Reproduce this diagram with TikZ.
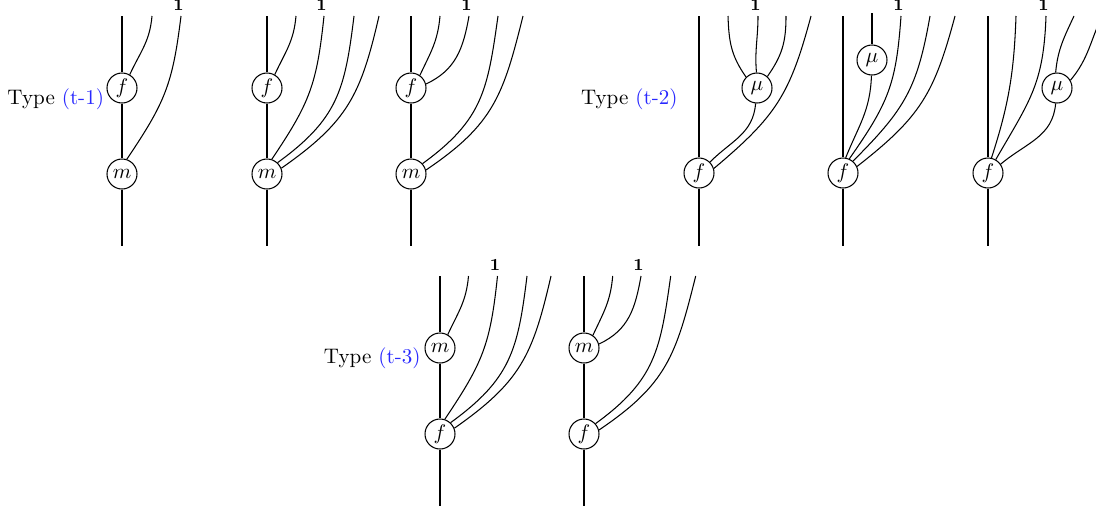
\documentclass[tikz,border=0pt]{standalone}
\usetikzlibrary{calc}
\definecolor{refblue}{RGB}{40,40,255}
\tikzset{
  vtx/.style={draw, circle, minimum size=14.25pt, inner sep=0pt, fill=white},
  onelab/.style={font=\footnotesize, inner sep=0pt, anchor=south},
  typelab/.style={anchor=base east, inner sep=0pt},
  lng/.style={looseness=1.15},
  sht/.style={looseness=1.05},
}
\begin{document}
\begin{tikzpicture}[x=0.475pt,y=0.475pt, line width=0.5pt]
\useasboundingbox (0,0) rectangle (1096,-507);
% ---------- A ----------
\coordinate (A0) at (122,-16); \coordinate (A0b) at (122,-246);
\node[vtx] (Af) at (122,-88) {$f$};
\node[vtx] (Am) at (122,-174) {$m$};
\coordinate (A1) at (152,-16); \coordinate (A2) at (181,-16);
\draw (A0) -- (Af) -- (Am) -- (A0b);
\draw[sht] (A1) to[out=-95,in=65] (Af.60);
\draw[lng] (A2) to[out=-97,in=56] (Am.72);
\node[onelab] at ($(A2)+(-2.5,4.5)$) {$\mathbf{1}$};
\node[typelab] at (104.5,-104.3) {Type \textcolor{refblue}{(t-1)}};
% ---------- B ----------
\coordinate (B0) at (267,-16); \coordinate (B0b) at (267,-246);
\node[vtx] (Bf) at (267,-88) {$f$};
\node[vtx] (Bm) at (267,-174) {$m$};
\coordinate (B1) at (296,-16); \coordinate (B2) at (324,-16);
\coordinate (B3) at (354,-16); \coordinate (B4) at (379,-16);
\draw (B0) -- (Bf) -- (Bm) -- (B0b);
\draw[sht] (B1) to[out=-95,in=65] (Bf.60);
\draw[lng] (B2) to[out=-96,in=56] (Bm.72);
\draw[lng] (B3) to[out=-97,in=36] (Bm.47);
\draw[lng] (B4) to[out=-103,in=35] (Bm.22);
\node[onelab] at ($(B2)+(-2.5,4.5)$) {$\mathbf{1}$};
% ---------- C ----------
\coordinate (C0) at (411,-16); \coordinate (C0b) at (411,-246);
\node[vtx] (Cf) at (411,-88) {$f$};
\node[vtx] (Cm) at (411,-174) {$m$};
\coordinate (C1) at (440,-16); \coordinate (C2) at (469,-16);
\coordinate (C3) at (498,-16); \coordinate (C4) at (523,-16);
\draw (C0) -- (Cf) -- (Cm) -- (C0b);
\draw[sht] (C1) to[out=-95,in=65] (Cf.55);
\draw[sht] (C2) to[out=-100,in=25] (Cf.15);
\draw[lng] (C3) to[out=-98,in=36] (Cm.42);
\draw[lng] (C4) to[out=-104,in=34] (Cm.15);
\node[onelab] at ($(C2)+(-2.5,4.5)$) {$\mathbf{1}$};
% ---------- D ----------
\coordinate (D0) at (699,-16); \coordinate (D0b) at (699,-246);
\node[vtx] (Df) at (699,-173) {$f$};
\node[vtx] (Dmu) at (757,-88) {$\mu$};
\coordinate (D1) at (728,-16); \coordinate (D2) at (758,-16);
\coordinate (D3) at (786,-16); \coordinate (D4) at (811,-16);
\draw (D0) -- (Df) -- (D0b);
\draw[sht] (D1) to[out=-88,in=125] (Dmu.135);
\draw (D2) to[out=-90,in=95] (Dmu.92);
\draw[sht] (D3) to[out=-90,in=55] (Dmu.48);
\draw[sht] (Dmu) to[out=-95,in=45] (Df.45);
\draw[lng] (D4) to[out=-105,in=40] (Df.17);
\node[onelab] at ($(D2)+(-2.5,4.5)$) {$\mathbf{1}$};
\node[typelab] at (678,-104.3) {Type \textcolor{refblue}{(t-2)}};
% ---------- E ----------
\coordinate (E0) at (843,-16); \coordinate (E0b) at (843,-246);
\node[vtx] (Ef) at (843,-173) {$f$};
\node[vtx] (Emu) at (872,-60) {$\mu$};
\coordinate (Emu0) at (872,-13);
\coordinate (E1) at (901,-16); \coordinate (E2) at (930,-16);
\coordinate (E3) at (955,-16);
\draw (E0) -- (Ef) -- (E0b);
\draw (Emu0) -- (Emu);
\draw[sht] (Emu) to[out=-92,in=68] (Ef.80);
\draw[lng] (E1) to[out=-94,in=55] (Ef.66);
\draw[lng] (E2) to[out=-100,in=45] (Ef.50);
\draw[lng] (E3) to[out=-105,in=38] (Ef.25);
\node[onelab] at ($(E1)+(-2.5,4.5)$) {$\mathbf{1}$};
% ---------- F ----------
\coordinate (F0) at (988,-16); \coordinate (F0b) at (988,-246);
\node[vtx] (Ff) at (988,-173) {$f$};
\node[vtx] (Fmu) at (1057,-88) {$\mu$};
\coordinate (F1) at (1016,-16); \coordinate (F2) at (1046,-16);
\coordinate (F3) at (1074,-16); \coordinate (F4) at (1102,-16);
\draw (F0) -- (Ff) -- (F0b);
\draw (F1) to[out=-92,in=72] (Ff.77);
\draw[lng] (F2) to[out=-92,in=60] (Ff.60);
\draw (F3) to[out=-115,in=85] (Fmu.95);
\draw (F4) to[out=-115,in=50] (Fmu.30);
\draw[sht] (Fmu) to[out=-95,in=40] (Ff.35);
\node[onelab] at ($(F2)+(-2.5,4.5)$) {$\mathbf{1}$};
% ---------- G ----------
\coordinate (G0) at (440,-276); \coordinate (G0b) at (440,-506);
\node[vtx] (Gm) at (440,-348) {$m$};
\node[vtx] (Gf) at (440,-434) {$f$};
\coordinate (G1) at (468.5,-276); \coordinate (G2) at (497.5,-276);
\coordinate (G3) at (527,-276); \coordinate (G4) at (551,-276);
\draw (G0) -- (Gm) -- (Gf) -- (G0b);
\draw[sht] (G1) to[out=-95,in=65] (Gm.60);
\draw[lng] (G2) to[out=-96,in=56] (Gf.72);
\draw[lng] (G3) to[out=-97,in=36] (Gf.47);
\draw[lng] (G4) to[out=-103,in=35] (Gf.22);
\node[onelab] at ($(G2)+(-2.5,4.5)$) {$\mathbf{1}$};
\node[typelab] at (421,-363) {Type \textcolor{refblue}{(t-3)}};
% ---------- H ----------
\coordinate (H0) at (584,-276); \coordinate (H0b) at (584,-506);
\node[vtx] (Hm) at (584,-348) {$m$};
\node[vtx] (Hf) at (584,-434) {$f$};
\coordinate (H1) at (612.7,-276); \coordinate (H2) at (641,-276);
\coordinate (H3) at (670.7,-276); \coordinate (H4) at (695.7,-276);
\draw (H0) -- (Hm) -- (Hf) -- (H0b);
\draw[sht] (H1) to[out=-95,in=65] (Hm.55);
\draw[sht] (H2) to[out=-100,in=25] (Hm.15);
\draw[lng] (H3) to[out=-98,in=36] (Hf.42);
\draw[lng] (H4) to[out=-104,in=34] (Hf.15);
\node[onelab] at ($(H2)+(-2.5,4.5)$) {$\mathbf{1}$};
\end{tikzpicture}
\end{document}
